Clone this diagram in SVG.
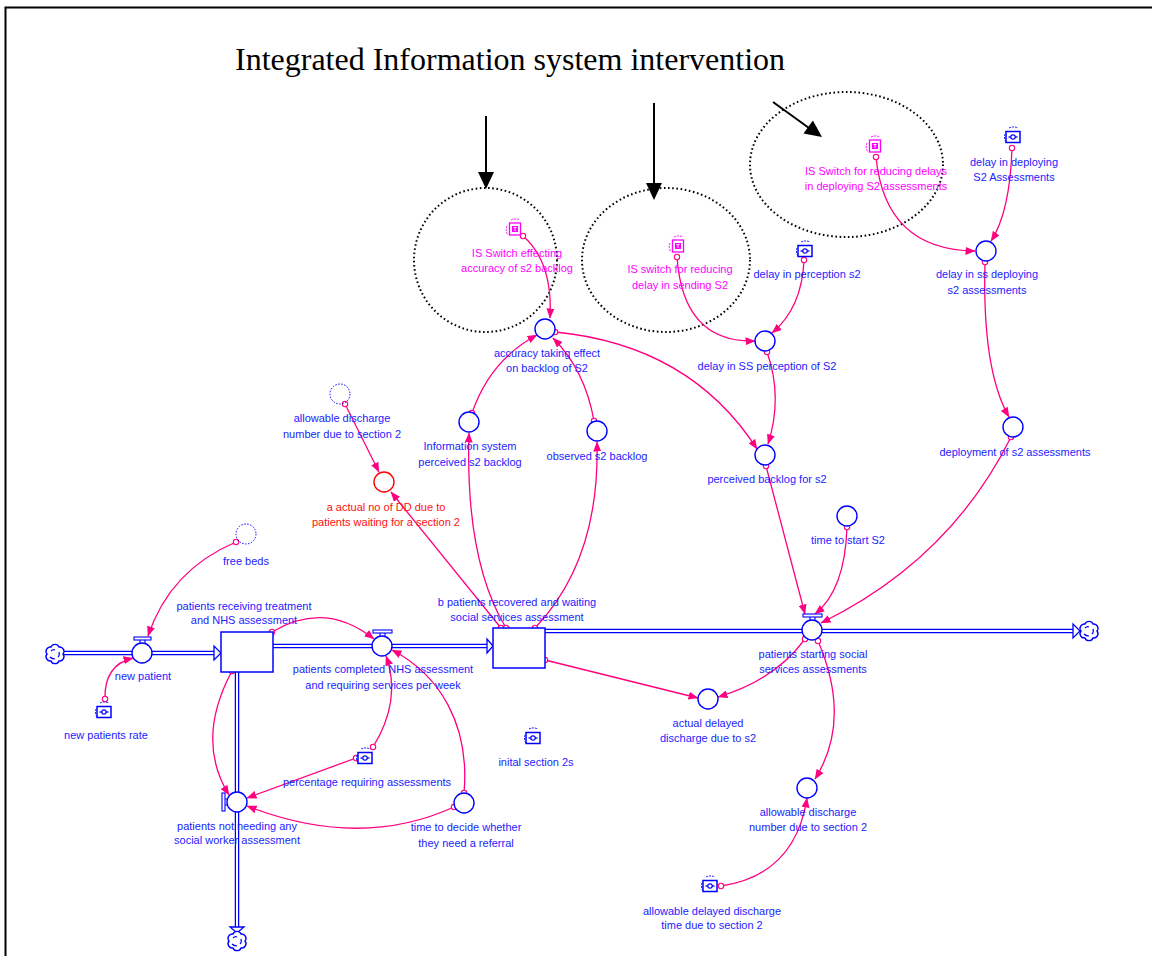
<svg xmlns="http://www.w3.org/2000/svg" width="1152" height="956" viewBox="0 0 1152 956">
<style>
text{font-family:"Liberation Sans",Arial,sans-serif;font-size:11px;text-anchor:middle}
.lb{fill:#1c1cff}
.lm{fill:#ff00ff}
.lr{fill:#ff1010}
.aux{fill:#fff;stroke:#0000ff;stroke-width:1.4}
.stock{fill:#fff;stroke:#0000ff;stroke-width:1.5}
.pipeo{fill:none;stroke:#0000ff;stroke-width:4.5}
.pipei{fill:none;stroke:#fff;stroke-width:2}
.link{fill:none;stroke:#ff0080;stroke-width:1.3;marker-end:url(#ah);marker-start:url(#dot)}
.dots{fill:none;stroke:#000;stroke-width:2;stroke-dasharray:1.6 2.6}
.ghost{fill:none;stroke:#0000ff;stroke-width:1;stroke-dasharray:1.5 1.5}
</style>
<defs>
<marker id="ah" viewBox="0 0 10 8" refX="9.5" refY="4" markerWidth="10" markerHeight="8" orient="auto" markerUnits="userSpaceOnUse"><path d="M0,0 L10,4 L0,8 z" fill="#ff0080"/></marker>
<marker id="dot" viewBox="-4 -4 8 8" refX="0" refY="0" markerWidth="8" markerHeight="8" markerUnits="userSpaceOnUse"><circle r="2.7" fill="#fff" stroke="#ff0080" stroke-width="1.1"/></marker>
<g id="cloud"><path d="M8,0 A4.3,4.3 0 0 1 4,6.93 A4.3,4.3 0 0 1 -4,6.93 A4.3,4.3 0 0 1 -8,0 A4.3,4.3 0 0 1 -4,-6.93 A4.3,4.3 0 0 1 4,-6.93 A4.3,4.3 0 0 1 8,0 z" fill="#fff" stroke="#0000ff" stroke-width="1.4"/><path d="M-4,-3 q2,-2 4,-1 M4,-2 q1,3 -1,5 M0,5 q-3,0 -5,-2" fill="none" stroke="#0000ff" stroke-width="1.2"/></g>
<g id="const"><path d="M-8,-3 A9,9 0 0 0 -7,5 M-4,-9 A10,10 0 0 1 5,-9" fill="none" stroke="#0000ff" stroke-width="0.9" stroke-dasharray="2 1"/><rect x="-7" y="-5.5" width="14" height="11" fill="#fff" stroke="#0000ff" stroke-width="1.5"/><path d="M-4.5,0 H4.5" stroke="#0000ff" stroke-width="1.3"/><circle r="2.2" fill="#fff" stroke="#0000ff" stroke-width="1.2"/></g>
<g id="switch"><path d="M-8,-3 A9,9 0 0 0 -7,6 M-4,-9 A10,10 0 0 1 5,-9" fill="none" stroke="#ff00ff" stroke-width="0.9" stroke-dasharray="2 1"/><rect x="-5.5" y="-6" width="11" height="12" fill="#fff" stroke="#ff00ff" stroke-width="1.3"/><rect x="-3" y="-3" width="6" height="6" fill="#ff00ff"/><path d="M-1.5,-1.5 H1.5 M0,-1.5 V2" stroke="#fff" stroke-width="0.9"/></g>
</defs>
<rect width="1152" height="956" fill="#fff"/>
<rect x="5.5" y="7.5" width="1200" height="1000" fill="none" stroke="#000" stroke-width="2"/>
<text x="235" y="70" style="font-family:'Liberation Serif','Times New Roman',serif;font-size:32px;text-anchor:start;fill:#000">Integrated Information system intervention</text>

<g id="annotations">
<ellipse class="dots" cx="485.5" cy="260" rx="71.5" ry="72"/>
<ellipse class="dots" cx="666" cy="260" rx="84" ry="72"/>
<ellipse class="dots" cx="846.5" cy="164.5" rx="96.5" ry="72.5"/>
<line x1="486" y1="116" x2="486" y2="173" stroke="#000" stroke-width="2"/>
<polygon points="478,172 494,172 486,189" fill="#000"/>
<line x1="654" y1="103" x2="654" y2="184" stroke="#000" stroke-width="2"/>
<polygon points="646,183 662,183 654,200" fill="#000"/>
<line x1="773" y1="102" x2="809" y2="128" stroke="#000" stroke-width="2"/>
<polygon points="803.5,133.6 812.9,120.6 822,137" fill="#000"/>
</g>

<g id="pipes">
<path class="pipeo" d="M63,653 H214 M273,646 H487 M545,631 H1073 M237,672 V927"/>
<path class="pipei" d="M63,653 H214 M273,646 H487 M545,631 H1073 M237,672 V927"/>
<polygon points="214,646 214,660 221,653" fill="#fff" stroke="#0000ff" stroke-width="1.3"/>
<polygon points="487,639 487,653 493,646" fill="#fff" stroke="#0000ff" stroke-width="1.3"/>
<polygon points="1073,624 1073,638 1080,631" fill="#fff" stroke="#0000ff" stroke-width="1.3"/>
<polygon points="230,927 244,927 237,933" fill="#fff" stroke="#0000ff" stroke-width="1.3"/>
</g>

<g id="connectors">
<path class="link" d="M523,236 Q553,262 550,318"/>
<path class="link" d="M677,257 Q683,343 755,341"/>
<path class="link" d="M876,157 Q885,250 975,251"/>
<path class="link" d="M1012,148 Q1010,212 991,241"/>
<path class="link" d="M804,260 Q802,308 772,333"/>
<path class="link" d="M767,352 Q783,397 768,444"/>
<path class="link" d="M555,332 Q690,345 757,449"/>
<path class="link" d="M985,262 Q982,370 1009,417"/>
<path class="link" d="M1011,437 Q950,560 821,623"/>
<path class="link" d="M766,466 L805,614"/>
<path class="link" d="M847,527 Q845,590 815,614"/>
<path class="link" d="M472,413 Q490,360 537,335"/>
<path class="link" d="M594,421 Q585,370 553,338"/>
<path class="link" d="M501,628 L391,492"/>
<path class="link" d="M506,628 Q465,560 469,433"/>
<path class="link" d="M535,628 Q600,560 597,442"/>
<path class="link" d="M545,660 L698,698"/>
<path class="link" d="M345,404 L379,472"/>
<path class="link" d="M805,639 Q775,680 718,697"/>
<path class="link" d="M818,641 Q852,720 815,779"/>
<path class="link" d="M721,886 Q795,875 807,798"/>
<path class="link" d="M105,699 Q104,665 133,658"/>
<path class="link" d="M236,542 Q170,570 148,636"/>
<path class="link" d="M272,632 Q325,600 374,639"/>
<path class="link" d="M232,671 Q195,740 229,795"/>
<path class="link" d="M356,758 L247,798"/>
<path class="link" d="M373,747 Q402,700 386,656"/>
<path class="link" d="M464,793 C470,725 440,675 392,650"/>
<path class="link" d="M454,807 Q360,850 247,806"/>
</g>

<g id="source-cloud"><use href="#cloud" x="55" y="654"/></g>
<g id="sink-cloud-right"><use href="#cloud" x="1089" y="631"/></g>
<g id="sink-cloud-bottom"><use href="#cloud" x="237" y="941"/></g>

<g id="is-switch-accuracy"><use href="#switch" x="515" y="229"/><text class="lm" x="517" y="257">IS Switch effecting</text><text class="lm" x="517" y="272">accuracy of s2 backlog</text></g>
<g id="is-switch-sending"><use href="#switch" x="678" y="246"/><text class="lm" x="680" y="273">IS switch for reducing</text><text class="lm" x="680" y="289">delay in sending S2</text></g>
<g id="is-switch-deploying"><use href="#switch" x="875" y="146"/><text class="lm" x="876" y="175">IS Switch for reducing delays</text><text class="lm" x="876" y="190">in deploying S2 assessments</text></g>

<g id="delay-deploying-s2"><use href="#const" x="1013" y="137"/><text class="lb" x="1014" y="166">delay in deploying</text><text class="lb" x="1014" y="181">S2 Assessments</text></g>
<g id="delay-ss-deploying"><circle class="aux" cx="986" cy="251" r="10"/><text class="lb" x="987" y="278">delay in ss deploying</text><text class="lb" x="987" y="294">s2 assessments</text></g>
<g id="delay-perception"><use href="#const" x="805" y="251"/><text class="lb" x="807" y="278">delay in perception s2</text></g>
<g id="delay-ss-perception"><circle class="aux" cx="765" cy="341" r="10"/><text class="lb" x="767" y="370">delay in SS perception of S2</text></g>
<g id="accuracy"><circle class="aux" cx="545" cy="329" r="10"/><text class="lb" x="547" y="357">accuracy taking effect</text><text class="lb" x="547" y="372">on backlog of S2</text></g>
<g id="info-system-backlog"><circle class="aux" cx="469" cy="422" r="10"/><text class="lb" x="470" y="450">Information system</text><text class="lb" x="470" y="466">perceived s2 backlog</text></g>
<g id="observed-backlog"><circle class="aux" cx="597" cy="431" r="10"/><text class="lb" x="597" y="460">observed s2 backlog</text></g>
<g id="perceived-backlog"><circle class="aux" cx="765" cy="455" r="10"/><text class="lb" x="767" y="483">perceived backlog for s2</text></g>
<g id="deployment"><circle class="aux" cx="1013" cy="427" r="10"/><text class="lb" x="1015" y="456">deployment of s2 assessments</text></g>
<g id="time-to-start"><circle class="aux" cx="847" cy="516" r="10"/><text class="lb" x="848" y="544">time to start S2</text></g>
<g id="allowable-ghost"><circle class="ghost" cx="340" cy="394" r="10"/><text class="lb" x="342" y="422">allowable discharge</text><text class="lb" x="342" y="438">number due to section 2</text></g>
<g id="actual-dd"><circle cx="384" cy="482" r="10" fill="#fff" stroke="#ff0000" stroke-width="1.4"/><text class="lr" x="386" y="511">a actual no of DD due to</text><text class="lr" x="386" y="526">patients waiting for a section 2</text></g>
<g id="free-beds"><circle class="ghost" cx="246" cy="534" r="10"/><text class="lb" x="246" y="565">free beds</text></g>

<g id="new-patient"><rect x="134" y="637" width="17" height="3" fill="#fff" stroke="#0000ff" stroke-width="1.1"/><path d="M140,640 V643 M145,640 V643" stroke="#0000ff" stroke-width="1.1"/><circle class="aux" cx="142" cy="653" r="10"/><text class="lb" x="143" y="680">new patient</text></g>
<g id="new-patients-rate"><use href="#const" x="104" y="712"/><text class="lb" x="106" y="739">new patients rate</text></g>
<g id="stock-treatment"><rect class="stock" x="221" y="632" width="52" height="40"/><text class="lb" x="244" y="610">patients receiving treatment</text><text class="lb" x="244" y="624">and NHS assessment</text></g>
<g id="completed-flow"><rect x="373" y="630" width="19" height="3" fill="#fff" stroke="#0000ff" stroke-width="1.1"/><path d="M380,633 V636 M385,633 V636" stroke="#0000ff" stroke-width="1.1"/><circle class="aux" cx="382" cy="646" r="10"/><text class="lb" x="383" y="673">patients completed NHS assessment</text><text class="lb" x="383" y="689">and requiring services per week</text></g>
<g id="stock-waiting"><rect class="stock" x="493" y="628" width="52" height="40"/><text class="lb" x="517" y="606">b patients recovered and waiting</text><text class="lb" x="517" y="621">social services assessment</text></g>
<g id="starting-flow"><rect x="803" y="614" width="19" height="3" fill="#fff" stroke="#0000ff" stroke-width="1.1"/><path d="M810,617 V620 M815,617 V620" stroke="#0000ff" stroke-width="1.1"/><circle class="aux" cx="812" cy="630" r="10"/><text class="lb" x="813" y="658">patients starting social</text><text class="lb" x="813" y="673">services assessments</text></g>
<g id="actual-delayed"><circle class="aux" cx="708" cy="699" r="10"/><text class="lb" x="708" y="727">actual delayed</text><text class="lb" x="708" y="742">discharge due to s2</text></g>
<g id="initial-s2"><use href="#const" x="533" y="738"/><text class="lb" x="536" y="766">inital section 2s</text></g>
<g id="percentage"><use href="#const" x="365" y="758"/><text class="lb" x="367" y="786">percentage requiring assessments</text></g>
<g id="not-needing-flow"><rect x="222" y="793" width="3" height="18" fill="#fff" stroke="#0000ff" stroke-width="1.1"/><path d="M225,799 H227 M225,805 H227" stroke="#0000ff" stroke-width="1.1"/><circle class="aux" cx="237" cy="802" r="10"/><text class="lb" x="237" y="830">patients not needing any</text><text class="lb" x="237" y="844">social worker assessment</text></g>
<g id="time-to-decide"><circle class="aux" cx="464" cy="803" r="10"/><text class="lb" x="466" y="831">time to decide whether</text><text class="lb" x="466" y="847">they need a referral</text></g>
<g id="allowable-number"><circle class="aux" cx="807" cy="788" r="10"/><text class="lb" x="808" y="816">allowable discharge</text><text class="lb" x="808" y="831">number due to section 2</text></g>
<g id="allowable-delayed-time"><use href="#const" x="710" y="886"/><text class="lb" x="712" y="915">allowable delayed discharge</text><text class="lb" x="712" y="929">time due to section 2</text></g>
</svg>
